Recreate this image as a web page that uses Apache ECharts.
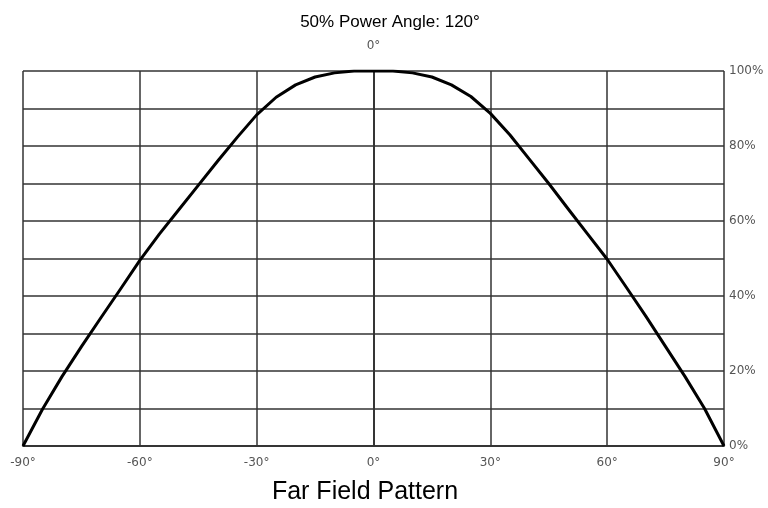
<!DOCTYPE html>
<html>
<head>
<meta charset="utf-8">
<script src="https://cdn.jsdelivr.net/npm/echarts@6/dist/echarts.min.js"></script>
<style>html,body{margin:0;padding:0;background:#fff}#c{width:768px;height:508px}</style>
</head>
<body>
<div id="c"></div>
<script>
var angles = [-90,-85,-80,-75,-70,-65,-60,-55,-50,-45,-40,-35,-30,-25,-20,-15,-10,-5,0,5,10,15,20,25,30,35,40,45,50,55,60,65,70,75,80,85,90];
var intensity = [0,9.8,18.5,26.5,34.2,41.8,49.5,56.5,63,69.5,76,82.3,88.3,93,96.3,98.4,99.5,100,100,100,99.5,98.4,96.3,93.2,88.7,83,76.5,70,63.2,56.5,49.8,42.2,34.5,26.5,18.5,10,0];
var xTicks = [-90,-60,-30,0,30,60,90];
var yTicks = [0,20,40,60,80,100];
var titleText = '50% Power Angle: 120°';
var xTitle = 'Far Field Pattern';

var data = angles.map(function(a,i){return [a,intensity[i]];});
var gridColor = '#333';
var labelStyle = {fontFamily:'DejaVu Sans',fontSize:12,color:'#555'};
var chart = echarts.init(document.getElementById('c'));
chart.setOption({
  animation:false,
  title:[
    {text:titleText,left:385,textAlign:'center',top:9,textStyle:{fontFamily:'Liberation Sans',fontSize:17,fontWeight:'normal',color:'#000'}},
    {text:xTitle,left:360,textAlign:'center',top:475,textStyle:{fontFamily:'Liberation Sans',fontSize:25,fontWeight:'normal',color:'#000'}}
  ],
  grid:{left:23,right:44,top:71,bottom:62},
  xAxis:[{
    type:'value',min:-90,max:90,interval:30,
    axisLine:{show:true,lineStyle:{color:gridColor,width:1.5}},
    axisTick:{show:false},
    splitLine:{show:true,lineStyle:{color:gridColor,width:1.5}},
    axisLabel:Object.assign({margin:11,formatter:function(v){return v+'°';}},labelStyle)
  },{
    type:'value',min:-90,max:90,interval:30,position:'top',
    axisLine:{show:true,lineStyle:{color:gridColor,width:1.5}},
    axisTick:{show:false},splitLine:{show:false},
    axisLabel:Object.assign({margin:19,formatter:function(v){return v===0?'0°':'';}},labelStyle)
  }],
  yAxis:[{
    type:'value',min:0,max:100,interval:10,position:'right',
    axisLine:{show:true,lineStyle:{color:gridColor,width:1.5}},
    axisTick:{show:false},
    splitLine:{show:true,lineStyle:{color:gridColor,width:1.5}},
    axisLabel:Object.assign({margin:5,formatter:function(v){return yTicks.indexOf(v)>=0? v+'%':'';}},labelStyle)
  },{
    type:'value',min:0,max:100,interval:10,position:'left',
    axisLine:{show:true,lineStyle:{color:gridColor,width:1.5}},
    axisTick:{show:false},splitLine:{show:false},axisLabel:{show:false}
  }],
  series:[{
    type:'line',data:data,smooth:false,showSymbol:false,
    lineStyle:{color:'#000',width:3,join:'round'}
  }]
});
</script>
</body>
</html>
